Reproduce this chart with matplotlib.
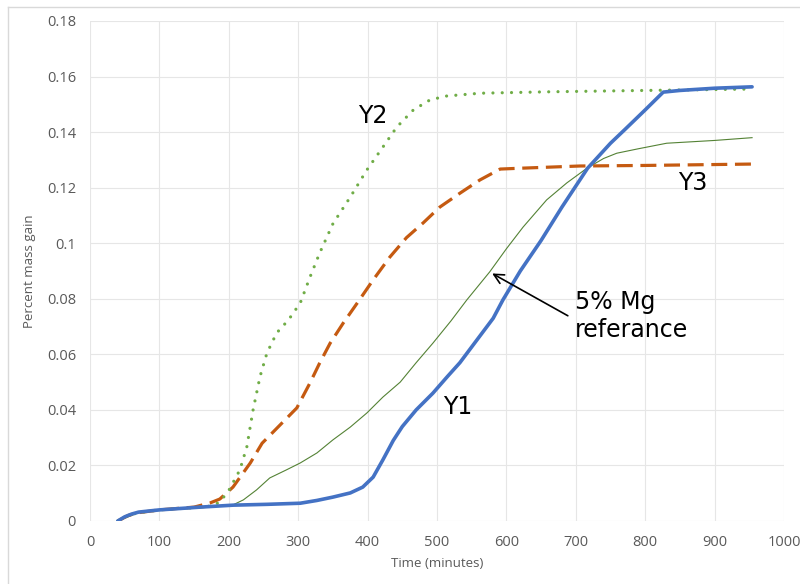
import matplotlib.pyplot as plt
from matplotlib.lines import Line2D

# Y1 (blue, thick)
y1_t = [40, 50, 60, 70, 100, 159, 206, 255, 303, 327, 350, 375, 393, 408, 422, 437, 450, 470, 494,
        515, 533, 560, 581, 595, 620, 650, 680, 717, 750, 771, 800, 826, 850, 900, 954]
y1_v = [0, 0.0015, 0.0025, 0.0032, 0.004, 0.005, 0.0057, 0.006, 0.0064, 0.0074, 0.0086, 0.0101,
        0.0122, 0.0158, 0.022, 0.029, 0.034, 0.040, 0.046, 0.052, 0.057, 0.066, 0.073, 0.0796,
        0.090, 0.101, 0.113, 0.127, 0.136, 0.141, 0.148, 0.1544, 0.155, 0.1558, 0.1563]

# 5% Mg reference (thin green)
ref_t = [40, 70, 100, 159, 206, 221, 240, 259, 283, 303, 327, 350, 375, 399, 422, 447, 470, 494,
         520, 543, 576, 600, 624, 658, 687, 716, 740, 759, 790, 831, 900, 954]
ref_v = [0, 0.003, 0.0038, 0.0047, 0.0058, 0.0076, 0.0112, 0.0155, 0.0184, 0.0209, 0.0245, 0.0292,
         0.0338, 0.0389, 0.0446, 0.050, 0.057, 0.064, 0.072, 0.0796, 0.0897, 0.098, 0.1058, 0.1156,
         0.1217, 0.127, 0.1305, 0.1324, 0.134, 0.136, 0.137, 0.138]

# Y3 (orange dashed)
y3_t = [40, 55, 70, 100, 150, 173, 187, 206, 231, 248, 274, 298, 317, 331, 346, 365, 386, 408, 432,
        456, 480, 504, 533, 562, 591, 620, 706, 800, 954]
y3_v = [0, 0.002, 0.003, 0.004, 0.005, 0.0065, 0.0079, 0.0122, 0.0209, 0.028, 0.0346, 0.0407,
        0.0497, 0.0569, 0.064, 0.0713, 0.0788, 0.0868, 0.095, 0.102, 0.1073, 0.113, 0.118, 0.1228,
        0.1267, 0.127, 0.1278, 0.128, 0.1285]

# Y2 (green dotted)
y2_t = [40, 55, 70, 100, 150, 175, 187, 200, 216, 226, 235, 245, 255, 269, 286, 303, 317, 331, 350,
        375, 399, 422, 442, 466, 490, 514, 562, 658, 800, 954]
y2_v = [0, 0.002, 0.003, 0.004, 0.0048, 0.0054, 0.0068, 0.011, 0.0184, 0.0267, 0.040, 0.052, 0.0605,
        0.0677, 0.0724, 0.0785, 0.0878, 0.0965, 0.107, 0.1166, 0.1264, 0.1346, 0.1418, 0.148,
        0.1516, 0.153, 0.154, 0.1545, 0.155, 0.1555]

fig = plt.figure(figsize=(8, 5.84), dpi=100)
ax = fig.add_axes([90 / 800, 1 - 521 / 584, 694 / 800, 500 / 584])

ax.plot(ref_t, ref_v, color='#548235', lw=0.8)
ax.plot(y3_t, y3_v, color='#C55A11', lw=2.3, linestyle=(0, (5.0, 2.4)))
ax.plot(y2_t, y2_v, color='#70AD47', lw=2.3, linestyle=(0, (0.01, 2.9)), dash_capstyle='round')
ax.plot(y1_t, y1_v, color='#4472C4', lw=2.6, solid_capstyle='round')

ax.set_xlim(0, 1000)
ax.set_ylim(0, 0.18)
ax.set_xticks(range(0, 1001, 100))
ax.set_yticks([0, 0.02, 0.04, 0.06, 0.08, 0.1, 0.12, 0.14, 0.16, 0.18])
ax.set_yticklabels(['0', '0.02', '0.04', '0.06', '0.08', '0.1', '0.12', '0.14', '0.16', '0.18'])
for s in ax.spines.values():
    s.set_visible(False)
ax.grid(True, color='#e6e6e6', lw=0.8)
ax.set_axisbelow(True)
ax.tick_params(length=0, labelsize=10.5, labelcolor='#595959', pad=10)
for lab in ax.get_xticklabels() + ax.get_yticklabels():
    lab.set_family('Open Sans')
ax.set_xlabel('Time (minutes)', fontsize=9.5, color='#595959', family='Open Sans', labelpad=5)
ax.set_ylabel('Percent mass gain', fontsize=9.5, color='#595959', family='Open Sans', labelpad=8)

ax.text(408, 0.1458, 'Y2', fontsize=17, ha='center', va='center')
ax.text(869, 0.1217, 'Y3', fontsize=17, ha='center', va='center')
ax.text(530, 0.041, 'Y1', fontsize=17, ha='center', va='center')
ax.text(699, 0.0738, '5% Mg\nreferance', fontsize=17, ha='left', va='center', linespacing=1.25)
ax.annotate('', xy=(576, 0.0896), xytext=(692, 0.0734),
            arrowprops=dict(arrowstyle='->,head_length=0.7,head_width=0.35', color='black', lw=1.2))

# chart area border
fig.add_artist(Line2D([7.5 / 800, 7.5 / 800], [0, 1 - 6.5 / 584], color='#d9d9d9', lw=1))
fig.add_artist(Line2D([7.5 / 800, 1], [1 - 6.5 / 584, 1 - 6.5 / 584], color='#d9d9d9', lw=1))

fig.savefig('out.png', dpi=100)
